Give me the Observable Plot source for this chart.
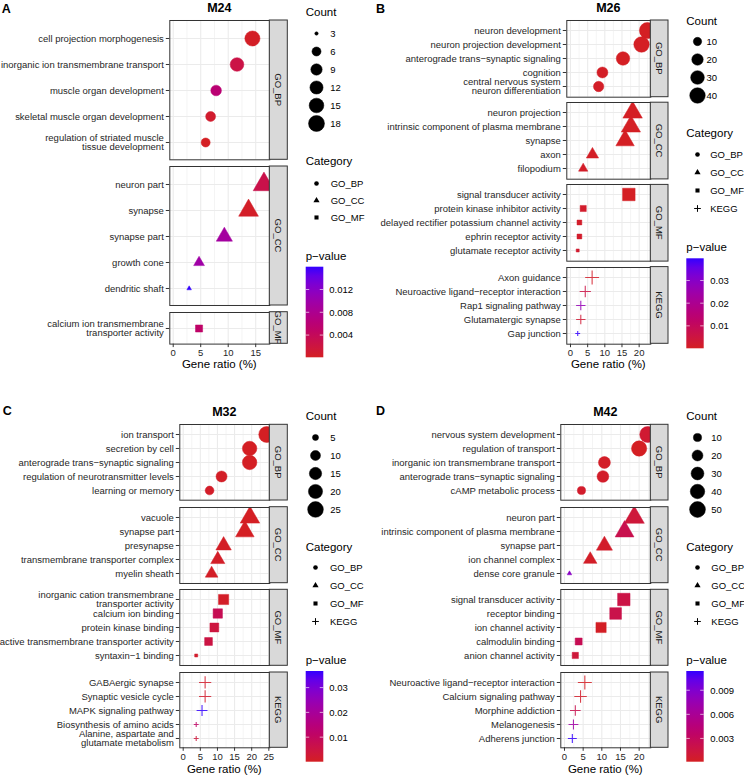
<!DOCTYPE html>
<html><head><meta charset="utf-8">
<script src="https://cdn.jsdelivr.net/npm/d3@7"></script>
<script src="https://cdn.jsdelivr.net/npm/@observablehq/plot@0.6"></script>
<style>
html,body{margin:0;padding:0;background:#fff}
#root{position:relative;width:744px;height:777px;overflow:hidden;background:#fff}
</style></head><body><div id="root"></div>
<script>
// ---------------- DATA ----------------
const CATS = ["GO_BP","GO_CC","GO_MF","KEGG"];
const SYMBOLS = ["circle","triangle","square","plus"];

// M24
const m24Terms = ["cell projection morphogenesis","inorganic ion transmembrane transport","muscle organ development","skeletal muscle organ development","regulation of striated muscle\ntissue development","neuron part","synapse","synapse part","growth cone","dendritic shaft","calcium ion transmembrane\ntransporter activity"];
const m24Category = ["GO_BP","GO_BP","GO_BP","GO_BP","GO_BP","GO_CC","GO_CC","GO_CC","GO_CC","GO_CC","GO_MF"];
const m24Ratio = [14.4,11.6,7.8,6.8,5.9,16.5,13.7,9.3,4.7,2.9,4.7];
const m24Count = [16,13,8,7,6,18,15,10,5,3,5];
const m24P = [0.0003,0.0025,0.0058,0.0008,0.0001,0.0028,0.0004,0.0092,0.0097,0.0160,0.0050];
const m24CountBreaks = [3,6,9,12,15,18];
const m24PBreaks = [0.004,0.008,0.012];
const m24XTicks = [0,5,10,15];
const m24XMinor = [2.5,7.5,12.5,17.5];

// M26
const m26Terms = ["neuron development","neuron projection development","anterograde trans−synaptic signaling","cognition","central nervous system\nneuron differentiation","neuron projection","intrinsic component of plasma membrane","synapse","axon","filopodium","signal transducer activity","protein kinase inhibitor activity","delayed rectifier potassium channel activity","ephrin receptor activity","glutamate receptor activity","Axon guidance","Neuroactive ligand−receptor interaction","Rap1 signaling pathway","Glutamatergic synapse","Gap junction"];
const m26Category = ["GO_BP","GO_BP","GO_BP","GO_BP","GO_BP","GO_CC","GO_CC","GO_CC","GO_CC","GO_CC","GO_MF","GO_MF","GO_MF","GO_MF","GO_MF","KEGG","KEGG","KEGG","KEGG","KEGG"];
const m26Ratio = [22.4,20.7,15.3,9.3,8.2,18.1,17.6,15.9,6.4,3.7,17.0,3.7,2.6,2.6,2.1,6.3,4.3,3.0,3.0,2.1];
const m26Count = [43,40,29,18,16,34,33,30,12,7,32,7,5,5,4,12,8,6,6,4];
const m26P = [0.0001,0.0002,0.0003,0.0005,0.0008,0.0002,0.0003,0.0003,0.0006,0.0010,0.0002,0.0015,0.0012,0.0015,0.0020,0.0010,0.0060,0.0270,0.0030,0.0398];
const m26CountBreaks = [10,20,30,40];
const m26PBreaks = [0.01,0.02,0.03];
const m26XTicks = [0,5,10,15,20];
const m26XMinor = [2.5,7.5,12.5,17.5,22.5];

// M32
const m32Terms = ["ion transport","secretion by cell","anterograde trans−synaptic signaling","regulation of neurotransmitter levels","learning or memory","vacuole","synapse part","presynapse","transmembrane transporter complex","myelin sheath","inorganic cation transmembrane\ntransporter activity","calcium ion binding","protein kinase binding","active transmembrane transporter activity","syntaxin−1 binding","GABAergic synapse","Synaptic vesicle cycle","MAPK signaling pathway","Biosynthesis of amino acids","Alanine, aspartate and\nglutamate metabolism"];
const m32Category = ["GO_BP","GO_BP","GO_BP","GO_BP","GO_BP","GO_CC","GO_CC","GO_CC","GO_CC","GO_CC","GO_MF","GO_MF","GO_MF","GO_MF","GO_MF","KEGG","KEGG","KEGG","KEGG","KEGG"];
const m32Ratio = [24.4,19.4,19.4,11.2,7.7,19.5,18.0,11.8,10.1,8.3,11.8,10.1,9.1,7.4,3.8,6.4,6.4,5.5,3.8,3.8];
const m32Count = [26,21,21,12,8,21,19,13,11,9,13,11,10,8,4,7,7,6,4,4];
const m32P = [0.0001,0.0003,0.0003,0.0006,0.0010,0.0003,0.0002,0.0005,0.0008,0.0006,0.0008,0.0078,0.0045,0.0052,0.0015,0.0015,0.0015,0.0367,0.0110,0.0040];
const m32CountBreaks = [5,10,15,20,25];
const m32PBreaks = [0.01,0.02,0.03];
const m32XTicks = [0,5,10,15,20,25];
const m32XMinor = [2.5,7.5,12.5,17.5,22.5];

// M42
const m42Terms = ["nervous system development","regulation of transport","inorganic ion transmembrane transport","anterograde trans−synaptic signaling","cAMP metabolic process","neuron part","intrinsic component of plasma membrane","synapse part","ion channel complex","dense core granule","signal transducer activity","receptor binding","ion channel activity","calmodulin binding","anion channel activity","Neuroactive ligand−receptor interaction","Calcium signaling pathway","Morphine addiction","Melanogenesis","Adherens junction"];
const m42Category = ["GO_BP","GO_BP","GO_BP","GO_BP","GO_BP","GO_CC","GO_CC","GO_CC","GO_CC","GO_CC","GO_MF","GO_MF","GO_MF","GO_MF","GO_MF","KEGG","KEGG","KEGG","KEGG","KEGG"];
const m42Ratio = [22.3,20.0,10.7,10.3,4.55,18.7,16.1,10.7,6.9,1.34,15.9,13.7,9.8,3.8,2.9,5.45,4.3,2.9,2.4,2.1];
const m42Count = [51,46,25,24,10,43,37,25,16,3,37,32,23,9,7,13,10,7,6,5];
const m42P = [0.0008,0.0001,0.0003,0.0004,0.0005,0.0012,0.0022,0.0004,0.0003,0.0085,0.0018,0.0020,0.0002,0.0025,0.0012,0.0002,0.0004,0.0022,0.0068,0.0114];
const m42CountBreaks = [10,20,30,40,50];
const m42PBreaks = [0.003,0.006,0.009];
const m42XTicks = [0,5,10,15,20];
const m42XMinor = [2.5,7.5,12.5,17.5,22.5];

// ---------------- STYLE / LAYOUT ----------------
const FONT = '"Liberation Sans", Arial, Helvetica, sans-serif';
const LOW = "#d41f23", HIGH = "#3300ff";
const EPS = 1e-6;

const layout = {
  A: {x0:0, letter:"A", letterX:1.7, letterY:13.3, titleX:219.3, titleY:11.7, left:169.3, right:269.3, stripR:287.3,
      xDomain:[-0.62,17.56], facets:[[20,159.3],[166,305],[311.7,343.3]], axisTitleY:368,
      lg:{x:305.7, countTitleY:15.8, countY0:31.7, countSp:18.32, symX:315.5, countLabelX:329.3,
          catTitleY:165.1, catY0:181.8, catSp:17.7, catLabelX:329.7, pTitleY:260, bar:[305.7,266.7,17.6,90.6], barLabelX:329.3}},
  B: {x0:372, letter:"B", letterX:376, letterY:12.7, titleX:608.3, titleY:11.7, left:566.3, right:650.3, stripR:668,
      xDomain:[-1.08,23.39], facets:[[20,96.7],[102.2,178.9],[184.4,261.1],[266.6,343.3]], axisTitleY:368,
      lg:{x:686.3, countTitleY:24.8, countY0:41, countSp:18.33, symX:697.3, countLabelX:706.3,
          catTitleY:137.4, catY0:154.3, catSp:18, catLabelX:710, pTitleY:250.7, bar:[686.3,258.3,17.4,90], barLabelX:710.3}},
  C: {x0:0, letter:"C", letterX:2.7, letterY:415, titleX:224.3, titleY:415.7, left:179.3, right:269.3, stripR:287.3,
      xDomain:[-0.99,25.28], facets:[[424.3,500],[506.7,582.7],[589.3,665.3],[672,747.3]], axisTitleY:772.5,
      lg:{x:305.7, countTitleY:419.8, countY0:436, countSp:18.33, symX:315.3, countLabelX:330,
          catTitleY:551.4, catY0:567.4, catSp:18.1, catLabelX:329.7, pTitleY:664, bar:[305.7,671,17.6,90.7], barLabelX:329.3}},
  D: {x0:372, letter:"D", letterX:376, letterY:415, titleX:605.3, titleY:415.7, left:560.3, right:650.3, stripR:668,
      xDomain:[-0.99,23.12], facets:[[424.3,500],[506.7,582.7],[589.3,665.3],[672,747.3]], axisTitleY:772.5,
      lg:{x:686.3, countTitleY:419.8, countY0:436, countSp:18.33, symX:696.5, countLabelX:710.3,
          catTitleY:551.4, catY0:567.4, catSp:18.1, catLabelX:710.3, pTitleY:664, bar:[686.3,671,17.4,90.7], barLabelX:710.3}}
};

const panels = [
  {key:"A", title:"M24", terms:m24Terms, cats:m24Category, ratio:m24Ratio, count:m24Count, p:m24P, countBreaks:m24CountBreaks, pBreaks:m24PBreaks, xTicks:m24XTicks, xMinor:m24XMinor, lay:layout.A},
  {key:"B", title:"M26", terms:m26Terms, cats:m26Category, ratio:m26Ratio, count:m26Count, p:m26P, countBreaks:m26CountBreaks, pBreaks:m26PBreaks, xTicks:m26XTicks, xMinor:m26XMinor, lay:layout.B},
  {key:"C", title:"M32", terms:m32Terms, cats:m32Category, ratio:m32Ratio, count:m32Count, p:m32P, countBreaks:m32CountBreaks, pBreaks:m32PBreaks, xTicks:m32XTicks, xMinor:m32XMinor, lay:layout.C},
  {key:"D", title:"M42", terms:m42Terms, cats:m42Category, ratio:m42Ratio, count:m42Count, p:m42P, countBreaks:m42CountBreaks, pBreaks:m42PBreaks, xTicks:m42XTicks, xMinor:m42XMinor, lay:layout.D}
];

// ---------------- RENDER ----------------
const root = document.getElementById("root");
function place(el, left, top) {
  el.style.position = "absolute";
  el.style.left = left + "px";
  el.style.top = top + "px";
  el.style.maxWidth = "none";
  el.style.zIndex = 1;
  root.appendChild(el);
}
const overlay = d3.select(root).append("svg")
  .attr("width", 744).attr("height", 777)
  .style("position","absolute").style("left","0px").style("top","0px")
  .style("z-index", 2).style("pointer-events","none")
  .attr("font-family", FONT);
const defs = overlay.append("defs");

function txt(x, y, s, size, opts = {}) {
  return overlay.append("text").attr("x", x).attr("y", y)
    .attr("font-size", size).attr("fill", opts.fill || "#000")
    .attr("font-weight", opts.bold ? "bold" : null)
    .attr("text-anchor", opts.anchor || "start").text(s);
}

function buildPanel(P) {
  const L = P.lay, G = L.lg;
  const rows = P.terms.map((t, i) => ({term:t, cat:P.cats[i], ratio:P.ratio[i], count:P.count[i], p:P.p[i]}));
  const [cmin, cmax] = d3.extent(P.count);
  const pDom = d3.extent(P.p);
  const rScale = {type:"sqrt", domain:[0, cmax - cmin + EPS], range:[1.7, 8]};
  const colorScale = {type:"linear", domain:pDom, range:[LOW, HIGH], interpolate:"lab"};
  const symbolScale = {domain:CATS, range:SYMBOLS};
  const rv = d => d.count - cmin + EPS;
  const facetCats = CATS.filter(c => P.cats.includes(c));

  facetCats.forEach((cat, fi) => {
    const [top, bottom] = L.facets[fi];
    const last = fi === facetCats.length - 1;
    const fr = rows.filter(d => d.cat === cat);
    const terms = fr.map(d => d.term);
    const mt = 1, mb = last ? 24 : 1;
    const svg = Plot.plot({
      width: L.right - L.x0 + 1,
      height: bottom - top + mt + mb,
      marginLeft: L.left - L.x0, marginRight: 1, marginTop: mt, marginBottom: mb,
      style: {background:"none", fontFamily:FONT, fontSize:"9.5px", color:"#333", overflow:"visible"},
      x: {domain: L.xDomain, axis: null},
      y: {type:"point", domain: terms, padding: 0.6, axis: null},
      r: rScale, color: colorScale, symbol: symbolScale,
      marks: [
        Plot.ruleX(P.xMinor, {stroke:"#ebebeb", strokeWidth:0.55}),
        Plot.ruleX(P.xTicks, {stroke:"#ebebeb", strokeWidth:1.07}),
        Plot.ruleY(terms, {stroke:"#ebebeb", strokeWidth:1.07}),
        Plot.dot(fr.filter(d => d.cat !== "KEGG"), {x:"ratio", y:"term", r:rv, symbol:"cat", fill:"p", stroke:"p", strokeWidth:0.5, clip:true}),
        Plot.dot(fr.filter(d => d.cat === "KEGG"), {x:"ratio", y:"term", r:rv, symbol:"cat", fill:"none", stroke:"p", strokeWidth:1.1, strokeOpacity:0.85, clip:true}),
        Plot.frame({stroke:"#333", strokeWidth:1}),
        Plot.axisY({tickSize:3.5, tickPadding:2.5, fontSize:9.5, label:null, lineHeight:1.0, fill:"#262626", stroke:"#333"}),
        last ? Plot.axisX(P.xTicks, {tickSize:3.5, tickPadding:2, fontSize:9.5, label:null, fill:"#262626", stroke:"#333"}) : null
      ]
    });
    place(svg, L.x0, top - mt);

    // strip
    const sw = L.stripR - L.right, sh = bottom - top;
    const cid = `clip-${P.key}-${fi}`;
    defs.append("clipPath").attr("id", cid).append("rect")
      .attr("x", L.right).attr("y", top).attr("width", sw).attr("height", sh);
    overlay.append("rect").attr("x", L.right).attr("y", top).attr("width", sw).attr("height", sh)
      .attr("fill", "#d9d9d9").attr("stroke", "#333").attr("stroke-width", 1);
    overlay.append("g").attr("clip-path", `url(#${cid})`).append("text")
      .attr("transform", `translate(${L.right + sw / 2},${top + sh / 2}) rotate(90)`)
      .attr("text-anchor", "middle").attr("dy", "0.35em")
      .attr("font-size", 9.5).attr("fill", "#1a1a1a").text(cat);
  });

  // letters, titles, axis title
  txt(L.letterX, L.letterY, L.letter, 12.5, {bold:true});
  txt(L.titleX, L.titleY, P.title, 12.5, {bold:true, anchor:"middle"});
  txt((L.left + L.right) / 2, L.axisTitleY, "Gene ratio (%)", 11.5, {anchor:"middle"});

  // Count legend
  txt(G.x, G.countTitleY, "Count", 11.5);
  const pad = 10;
  const nC = P.countBreaks.length;
  const hC = (nC - 1) * G.countSp + 2 * pad;
  const countSvg = Plot.plot({
    width: (G.countLabelX - G.symX) + pad + 20, height: hC, margin: 0,
    style: {background:"none", fontFamily:FONT, fontSize:"9.5px", color:"#000", overflow:"visible"},
    x: {domain:[0, 1], range:[pad, pad + 1], axis:null},
    y: {type:"point", domain:P.countBreaks, range:[pad, hC - pad], padding:0, axis:null},
    r: rScale,
    marks: [
      Plot.dot(P.countBreaks, {x:() => 0, y:d => d, r:d => d - cmin + EPS, fill:"#000", stroke:"#000", strokeWidth:0.5}),
      Plot.text(P.countBreaks, {x:() => 0, y:d => d, text:d => String(d), dx:G.countLabelX - G.symX, textAnchor:"start", fontSize:9.5, fill:"#000"})
    ]
  });
  place(countSvg, G.symX - pad, G.countY0 - pad);

  // Category legend
  txt(G.x, G.catTitleY, "Category", 11.5);
  const nK = facetCats.length;
  const hK = (nK - 1) * G.catSp + 2 * pad;
  const catSvg = Plot.plot({
    width: (G.catLabelX - G.symX) + pad + 40, height: hK, margin: 0,
    style: {background:"none", fontFamily:FONT, fontSize:"9.5px", color:"#000", overflow:"visible"},
    x: {domain:[0, 1], range:[pad, pad + 1], axis:null},
    y: {type:"point", domain:facetCats, range:[pad, hK - pad], padding:0, axis:null},
    symbol: symbolScale,
    marks: [
      Plot.dot(facetCats.filter(c => c !== "KEGG"), {x:() => 0, y:d => d, r:2.3, symbol:d => d, fill:"#000"}),
      Plot.dot(facetCats.filter(c => c === "KEGG"), {x:() => 0, y:d => d, r:2.3, symbol:d => d, fill:"none", stroke:"#000", strokeWidth:1}),
      Plot.text(facetCats, {x:() => 0, y:d => d, text:d => d, dx:G.catLabelX - G.symX, textAnchor:"start", fontSize:9.5, fill:"#000"})
    ]
  });
  place(catSvg, G.symX - pad, G.catY0 - pad);

  // p-value colourbar
  txt(G.x, G.pTitleY, "p−value", 11.5);
  const [bx, by, bw, bh] = G.bar;
  const gid = "grad" + P.key;
  const grad = defs.append("linearGradient").attr("id", gid).attr("x1", 0).attr("y1", 1).attr("x2", 0).attr("y2", 0);
  const interp = d3.interpolateLab(LOW, HIGH);
  for (let i = 0; i <= 10; i++) grad.append("stop").attr("offset", i / 10).attr("stop-color", interp(i / 10));
  overlay.append("rect").attr("x", bx).attr("y", by).attr("width", bw).attr("height", bh).attr("fill", `url(#${gid})`);
  const py = d3.scaleLinear().domain(pDom).range([by + bh, by]);
  P.pBreaks.forEach(v => {
    const y = py(v);
    overlay.append("line").attr("x1", bx).attr("x2", bx + bw / 5).attr("y1", y).attr("y2", y).attr("stroke", "#fff").attr("stroke-opacity", 0.8).attr("stroke-width", 0.8);
    overlay.append("line").attr("x1", bx + bw * 4 / 5).attr("x2", bx + bw).attr("y1", y).attr("y2", y).attr("stroke", "#fff").attr("stroke-opacity", 0.8).attr("stroke-width", 0.8);
    txt(G.barLabelX, y + 3.4, String(v), 9.5);
  });
}

panels.forEach(buildPanel);
</script></body></html>
